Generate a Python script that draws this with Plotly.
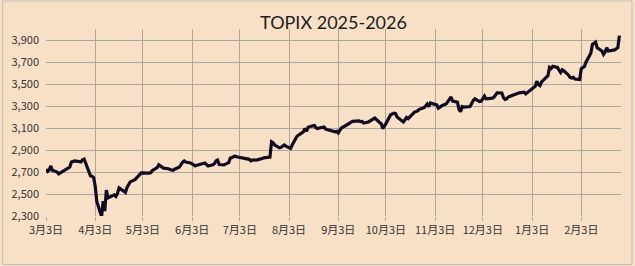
import pandas as pd
import plotly.graph_objects as go

# ---- data (TOPIX daily closes) ----
holidays = ["2025-03-20", "2025-04-29", "2025-05-05", "2025-05-06", "2025-07-21",
            "2025-08-11", "2025-09-15", "2025-09-23", "2025-10-13", "2025-11-03",
            "2025-11-24", "2025-12-31", "2026-01-01", "2026-01-02", "2026-01-12",
            "2026-02-11", "2026-02-23"]

mar = [2725, 2705, 2718, 2755, 2715, 2700, 2682, 2690, 2700, 2712, 2730, 2745, 2790, 2800,
       2795, 2792, 2812, 2818, 2780, 2665]
apr = [2662, 2650, 2568, 2430, 2295, 2435, 2345, 2535, 2465, 2480, 2492, 2478, 2505, 2555,
       2530, 2515, 2560, 2590, 2610, 2630, 2660]
may = [2680, 2692, 2690, 2695, 2715, 2740, 2765, 2755, 2740, 2735, 2730, 2722, 2718, 2715,
       2725, 2745, 2770, 2790, 2800, 2790]
jun = [2782, 2770, 2760, 2755, 2762, 2772, 2778, 2782, 2768, 2755, 2765, 2775, 2800, 2808,
       2768, 2765, 2772, 2778, 2785, 2825, 2845]
jul = [2838, 2835, 2830, 2825, 2820, 2818, 2815, 2802, 2808, 2810, 2812, 2818, 2822, 2828,
       2835, 2975, 2965, 2945, 2920, 2925, 2940, 2945]
aug = [2935, 2915, 2945, 2975, 3010, 3025, 3065, 3095, 3070, 3107, 3120, 3122, 3100, 3095,
       3100, 3108, 3090, 3085, 3080, 3075]
sep = [3065, 3070, 3055, 3080, 3100, 3125, 3135, 3145, 3155, 3160, 3165, 3158, 3160, 3145,
       3155, 3170, 3185, 3190, 3150, 3140]
octo = [3095, 3115, 3140, 3220, 3225, 3235, 3232, 3200, 3155, 3170, 3195, 3185, 3235, 3245,
        3250, 3255, 3270, 3285, 3300, 3318, 3295, 3328]
nov = [3310, 3280, 3290, 3300, 3320, 3345, 3358, 3382, 3345, 3335, 3270, 3248, 3295, 3290,
       3295, 3330, 3350, 3365]
dec = [3340, 3345, 3375, 3390, 3365, 3368, 3372, 3380, 3395, 3420, 3418, 3375, 3360, 3365,
       3382, 3400, 3405, 3410, 3415, 3420, 3425, 3410]
jan = [3480, 3525, 3495, 3485, 3520, 3575, 3650, 3640, 3660, 3650, 3625, 3605, 3630, 3620,
       3580, 3560, 3555, 3560, 3545]
feb = [3540, 3640, 3650, 3660, 3700, 3780, 3860, 3880, 3830, 3800, 3770, 3790, 3830, 3800,
       3810, 3820, 3830, 3940]

tick_dates = ["2025-03-03", "2025-04-03", "2025-05-03", "2025-06-03", "2025-07-03",
              "2025-08-03", "2025-09-03", "2025-10-03", "2025-11-03", "2025-12-03",
              "2026-01-03", "2026-02-03"]
tick_labels = ["3月3日", "4月3日", "5月3日", "6月3日", "7月3日", "8月3日", "9月3日",
               "10月3日", "11月3日", "12月3日", "1月3日", "2月3日"]
y_ticks = [2300, 2500, 2700, 2900, 3100, 3300, 3500, 3700, 3900]

values = mar + apr + may + jun + jul + aug + sep + octo + nov + dec + jan + feb
bd = pd.bdate_range("2025-03-03", "2026-02-27")
dates = [d for d in bd if d.strftime("%Y-%m-%d") not in holidays]
n = min(len(dates), len(values))
dates, values = dates[:n], values[:n]

BG = "#F8E0C7"
GRID = "#ABA6A0"

fig = go.Figure()
fig.add_trace(go.Scatter(
    x=dates, y=values, mode="lines",
    line=dict(color="#110c22", width=3.2),
    hoverinfo="skip", showlegend=False,
))

# chart-area border
L, R, T, B = 44, 621, 29, 216
W, H = R - L, B - T
def px(p): return (p - L) / W
def py(q): return (B - q) / H
fig.add_shape(type="rect", xref="paper", yref="paper",
              x0=px(0.5), x1=px(632), y0=py(264.5), y1=py(1),
              line=dict(color="#C4BEB8", width=1), fillcolor="rgba(0,0,0,0)", layer="below")

fig.update_layout(
    width=635, height=266,
    margin=dict(l=L, r=635 - R, t=T, b=266 - B),
    paper_bgcolor=BG, plot_bgcolor=BG,
    title=dict(text="TOPIX 2025-2026", x=0.5, xanchor="center", xref="paper",
               y=1 - 23 / 266, yref="container", yanchor="middle",
               font=dict(family="Lato, Open Sans, sans-serif", size=18, color="#1c1c1c")),
    xaxis=dict(
        type="date", range=["2025-03-03", "2026-02-28"],
        tickmode="array", tickvals=tick_dates, ticktext=tick_labels,
        showgrid=True, gridcolor=GRID, gridwidth=1,
        ticks="outside", ticklen=4, tickcolor=GRID, tickwidth=1,
        showline=False, zeroline=False,
        tickfont=dict(family="Noto Sans CJK JP", size=11, color="#333333"),
    ),
    yaxis=dict(
        range=[2300, 4000], tickmode="array", tickvals=y_ticks,
        tickformat=",d", showgrid=True, gridcolor=GRID, gridwidth=1,
        showline=False, zeroline=False, ticks="", ticklabelstandoff=6,
        tickfont=dict(family="Noto Sans CJK JP", size=11, color="#333333"),
    ),
)

fig.write_html("out.html")
